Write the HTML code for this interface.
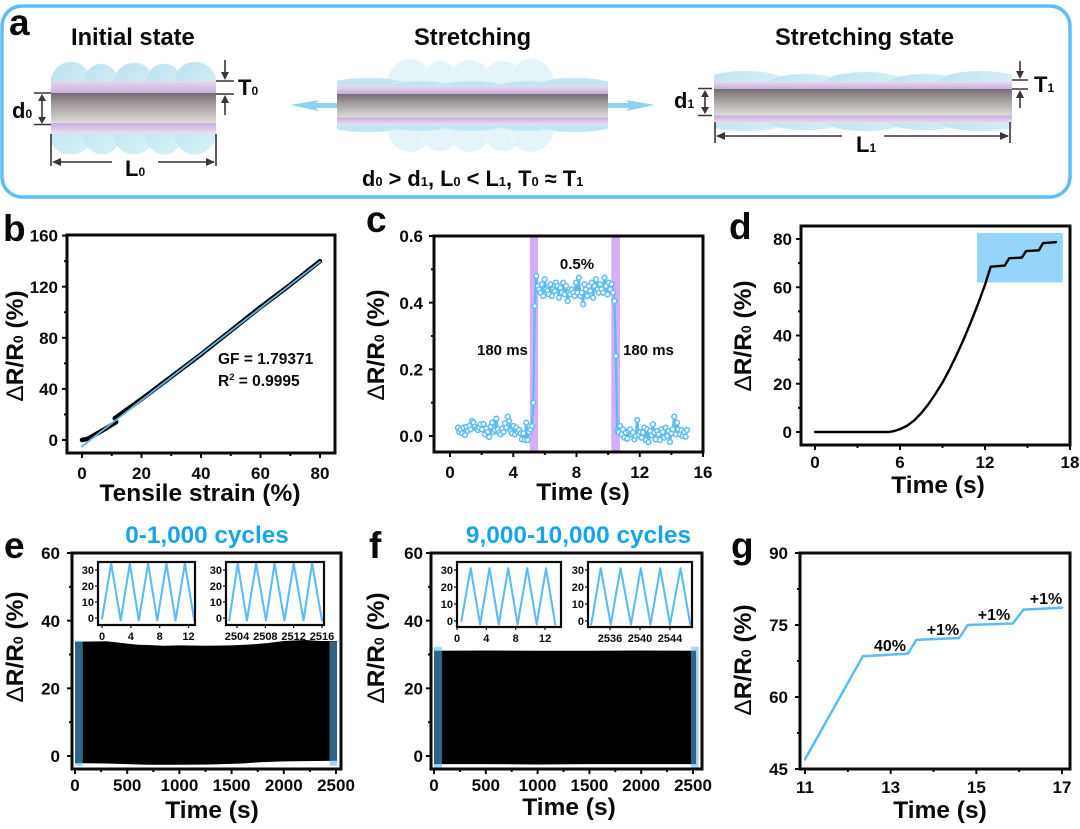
<!DOCTYPE html>
<html lang="en">
<head>
<meta charset="utf-8">
<title>Strain sensor performance figure</title>
<style>
  html,body{margin:0;padding:0;background:#fff;}
  svg{display:block;font-family:"Liberation Sans",sans-serif;}
  text{font-weight:700;fill:#0a0a0a;}
  .ttl{font-size:24.5px;}
  .big{font-size:37px;}
  .ann{font-size:15px;}
  .step{font-size:16px;}
  .dia{font-size:23.7px;}
  .cyc{fill:#18a5e6;}
</style>
</head>
<body>
<svg id="fig" width="1080" height="829" viewBox="0 0 1080 829" xmlns="http://www.w3.org/2000/svg">
  <defs>
    <linearGradient id="core" x1="0" y1="0" x2="0" y2="1"><stop offset="0" stop-color="#756c71"/><stop offset=".45" stop-color="#aaa5a5"/><stop offset="1" stop-color="#e0ddd9"/></linearGradient>
    <linearGradient id="pt" x1="0" y1="0" x2="0" y2="1"><stop offset="0" stop-color="#e6dbee"/><stop offset="1" stop-color="#c7a9dc"/></linearGradient>
    <linearGradient id="pb" x1="0" y1="0" x2="0" y2="1"><stop offset="0" stop-color="#c6acde"/><stop offset="1" stop-color="#ece2f3"/></linearGradient>
    <linearGradient id="lobe" x1="0" y1="0" x2="1" y2="1"><stop offset="0" stop-color="#b9e2ee"/><stop offset="1" stop-color="#dcf2f7"/></linearGradient>
    <linearGradient id="lobeBot" x1="0" y1="0" x2="1" y2="0"><stop offset="0" stop-color="#bde4ef"/><stop offset="1" stop-color="#d8f0f6"/></linearGradient>
    <clipPath id="clipInit"><rect x="51" y="55" width="165" height="105" rx="10"/></clipPath>
    <clipPath id="clipStretch"><rect x="337" y="70" width="271" height="70"/></clipPath>
    <clipPath id="clipState"><rect x="714" y="65" width="298" height="72"/></clipPath>
  </defs>

  <g>
    <rect x="2" y="6" width="1068" height="191" rx="20" fill="none" stroke="#5cbdf6" stroke-width="3.5"/>
    <text class="big" x="9" y="35">a</text>
    <text class="dia" x="71" y="45">Initial state</text>
    <text class="dia" x="414" y="45">Stretching</text>
    <text class="dia" x="775" y="45">Stretching state</text>

    <g>
      <g clip-path="url(#clipInit)" fill="url(#lobe)" stroke="#d3eef5" stroke-width=".7">
        <ellipse cx="71" cy="85" rx="21" ry="23"/><ellipse cx="101" cy="85" rx="18" ry="21"/><ellipse cx="134" cy="85" rx="21" ry="22"/><ellipse cx="164" cy="85" rx="19" ry="21"/><ellipse cx="195" cy="85" rx="22" ry="23"/>
        <ellipse cx="71" cy="130" rx="24" ry="24"/><ellipse cx="102" cy="130" rx="20" ry="24"/><ellipse cx="134" cy="130" rx="22" ry="24"/><ellipse cx="164" cy="130" rx="20" ry="24"/><ellipse cx="195" cy="130" rx="22" ry="24"/>
      </g>
      <rect x="51" y="81" width="165" height="13" fill="url(#pt)"/>
      <rect x="51" y="93" width="165" height="30.5" fill="url(#core)"/>
      <rect x="51" y="123" width="165" height="11" fill="url(#pb)"/>
    </g>
    <g stroke="#3a3537" stroke-width="1.6" fill="#3a3537">
      <path d="M34 93H51M34 124.500H51M42 97V120M216 81H234M216 94H234M225 60V78M225 97V115M51 134V166M216 134V166M53 162H112M158 162H214" fill="none"/>
      <path d="M42 94l-4 7h8zM42 124l-4-7h8zM225 80l-4-8h8zM225 95l-4 8h8zM52 162l9-4v8zM215 162l-9-4v8z" stroke="none"/>
    </g>
    <text font-size="22" x="12" y="118">d<tspan font-size="12">0</tspan></text>
    <text font-size="22" x="238" y="95">T<tspan font-size="12">0</tspan></text>
    <text font-size="22" x="125" y="176">L<tspan font-size="12">0</tspan></text>

    <g>
      <g fill="#e4f4f9" stroke="#f2fafc" stroke-width=".7">
        <ellipse cx="410" cy="85" rx="23" ry="26"/><ellipse cx="440" cy="85" rx="19" ry="24"/><ellipse cx="470" cy="85" rx="21" ry="25"/><ellipse cx="503" cy="85" rx="22" ry="24"/><ellipse cx="531" cy="85" rx="23" ry="26"/>
        <ellipse cx="410" cy="126" rx="23" ry="26"/><ellipse cx="440" cy="126" rx="21" ry="25"/><ellipse cx="470" cy="126" rx="22" ry="26"/><ellipse cx="503" cy="126" rx="22" ry="25"/><ellipse cx="531" cy="126" rx="23" ry="26"/>
      </g>
      <g clip-path="url(#clipStretch)" fill="#c2e6f1" stroke="#d8f0f6" stroke-width=".6">
        <ellipse cx="368" cy="90" rx="48" ry="12"/><ellipse cx="420" cy="91" rx="38" ry="10"/><ellipse cx="472" cy="91" rx="40" ry="10"/><ellipse cx="528" cy="91" rx="38" ry="10"/><ellipse cx="575" cy="90" rx="46" ry="12"/>
        <ellipse cx="368" cy="121" rx="48" ry="11"/><ellipse cx="420" cy="121" rx="38" ry="10"/><ellipse cx="472" cy="121" rx="40" ry="10"/><ellipse cx="528" cy="121" rx="38" ry="10"/><ellipse cx="575" cy="121" rx="46" ry="11"/>
      </g>
      <rect x="337" y="86" width="271" height="8.500" fill="url(#pt)"/>
      <rect x="337" y="94" width="271" height="24" fill="url(#core)"/>
      <rect x="337" y="117.500" width="271" height="7.500" fill="url(#pb)"/>
      <path d="M290 105L319 100L316 103H337V108H316L319 111Z" fill="#8fd3f3"/>
      <path d="M655 105L626 100L629 103H608V108H629L626 111Z" fill="#8fd3f3"/>
    </g>
    <text font-size="21.800" x="362" y="186">d<tspan font-size="13">0</tspan> &gt; d<tspan font-size="13">1</tspan>, L<tspan font-size="13">0</tspan> &lt; L<tspan font-size="13">1</tspan>, T<tspan font-size="13">0</tspan> ≈ T<tspan font-size="13">1</tspan></text>

    <g>
      <g clip-path="url(#clipState)" fill="url(#lobeBot)" stroke="#dff3f8" stroke-width=".6">
        <ellipse cx="745" cy="84" rx="44" ry="13"/><ellipse cx="805" cy="85" rx="40" ry="11"/><ellipse cx="865" cy="84" rx="42" ry="12"/><ellipse cx="925" cy="85" rx="40" ry="11"/><ellipse cx="980" cy="84" rx="44" ry="13"/>
        <ellipse cx="745" cy="120" rx="44" ry="11"/><ellipse cx="805" cy="120" rx="40" ry="10"/><ellipse cx="865" cy="120" rx="42" ry="11"/><ellipse cx="925" cy="120" rx="40" ry="10"/><ellipse cx="980" cy="120" rx="44" ry="11"/>
      </g>
      <rect x="714" y="81.500" width="298" height="8" fill="url(#pt)"/>
      <rect x="714" y="89" width="298" height="27" fill="url(#core)"/>
      <rect x="714" y="115.500" width="298" height="8" fill="url(#pb)"/>
    </g>
    <g stroke="#3a3537" stroke-width="1.6" fill="#3a3537">
      <path d="M698 88.500H712M698 115.500H712M705 92V112M1012 80H1028M1012 89H1028M1020 61V72M1020 97V108M715 122V143M1010 122V143M717 136H842M884 136H1008" fill="none"/>
      <path d="M705 90l-4 7h8zM705 114l-4-7h8zM1020 79l-4-8h8zM1020 90l-4 8h8zM716 136l9-4v8zM1009 136l-9-4v8z" stroke="none"/>
    </g>
    <text font-size="22" x="674" y="108">d<tspan font-size="12">1</tspan></text>
    <text font-size="22" x="1034" y="92">T<tspan font-size="12">1</tspan></text>
    <text font-size="22" x="856" y="152">L<tspan font-size="12">1</tspan></text>
  </g>

  <text class="big" x="3" y="241">b</text>
  <text class="big" x="366" y="232">c</text>
  <text class="big" x="729" y="239">d</text>
  <text class="big" x="4" y="558">e</text>
  <text class="big" x="369" y="558">f</text>
  <text class="big" x="731" y="558">g</text>

  <text class="ttl" text-anchor="middle" transform="rotate(-90 23 346)" x="23" y="346"><tspan style="font-weight:400">Δ</tspan>R/R<tspan font-size="14">0</tspan> (%)</text>
  <text class="ttl" text-anchor="middle" transform="rotate(-90 384 345)" x="384" y="345"><tspan style="font-weight:400">Δ</tspan>R/R<tspan font-size="14">0</tspan> (%)</text>
  <text class="ttl" text-anchor="middle" transform="rotate(-90 751 336)" x="751" y="336"><tspan style="font-weight:400">Δ</tspan>R/R<tspan font-size="14">0</tspan> (%)</text>
  <text class="ttl" text-anchor="middle" transform="rotate(-90 23 647)" x="23" y="647"><tspan style="font-weight:400">Δ</tspan>R/R<tspan font-size="14">0</tspan> (%)</text>
  <text class="ttl" text-anchor="middle" transform="rotate(-90 384 648)" x="384" y="648"><tspan style="font-weight:400">Δ</tspan>R/R<tspan font-size="14">0</tspan> (%)</text>
  <text class="ttl" text-anchor="middle" transform="rotate(-90 751 660)" x="751" y="660"><tspan style="font-weight:400">Δ</tspan>R/R<tspan font-size="14">0</tspan> (%)</text>

  <text class="ttl" text-anchor="middle" x="200" y="501">Tensile strain (%)</text>
  <text class="ttl" text-anchor="middle" x="583" y="500">Time (s)</text>
  <text class="ttl" text-anchor="middle" x="938" y="493">Time (s)</text>
  <text class="ttl" text-anchor="middle" x="212" y="818">Time (s)</text>
  <text class="ttl" text-anchor="middle" x="569" y="815">Time (s)</text>
  <text class="ttl" text-anchor="middle" x="940" y="818">Time (s)</text>

  <text class="cyc" font-size="24.300" text-anchor="middle" x="207" y="543">0-1,000 cycles</text>
  <text class="cyc" font-size="24.400" text-anchor="middle" x="578.500" y="543">9,000-10,000 cycles</text>

  <text font-size="15.500" x="218" y="364">GF = 1.79371</text>
  <text font-size="15.500" x="218" y="386">R<tspan font-size="9.500" dy="-6">2</tspan><tspan dy="6"> = 0.9995</tspan></text>
  <text class="ann" text-anchor="middle" x="577" y="269">0.5%</text>
  <text class="ann" x="477" y="355">180 ms</text>
  <text class="ann" x="623" y="355">180 ms</text>
  <text class="step" text-anchor="middle" x="890" y="651">40%</text>
  <text class="step" text-anchor="middle" x="943" y="635">+1%</text>
  <text class="step" text-anchor="middle" x="994" y="620">+1%</text>
  <text class="step" text-anchor="middle" x="1046" y="604">+1%</text>

  <g id="charts"></g>
</svg>

<script>
// Panel b
const bStrain = [0, 2, 5, 8, 11.5];
const bResponseLow = [0, 1, 5, 9, 14];
const bStrainHigh = [11, 20, 30, 40, 50, 60, 70, 80];
const bResponseHigh = [17, 32, 49.5, 67, 85.5, 104, 121.5, 140];
const bFitStrain = [0, 80];
const bFitValues = [-5, 139.5];
const bXTicks = [0, 20, 40, 60, 80];
const bYTicks = [0, 40, 80, 120, 160];
const bXMinor = [10, 30, 50, 70];
const bYMinor = [20, 60, 100, 140];

// Panel c
const cStart = 0.5;
const cStep = 0.09;
const cValues = [
  .025,.012,.02,.008,.025,.003,.027,.015,.03,.02,
  .045,.04,.028,.022,.018,.025,.035,.02,.036,.005,
  .022,.012,-.003,.028,.04,.012,.018,.052,.02,.01,
  .005,.022,.012,.038,.025,.058,.045,.015,.008,.03,
  .005,.025,.012,.018,.008,-.01,.008,-.012,.04,-.012,
  .012,.02,.03,.1,.39,.48,
  .45,.44,.43,.455,.42,.47,.44,.435,.425,.455,
  .42,.44,.435,.46,.45,.415,.445,.43,.46,.425,
  .45,.405,.43,.425,.44,.43,.42,.46,.43,.475,
  .42,.43,.395,.455,.44,.42,.45,.435,.46,.415,
  .45,.47,.44,.43,.455,.44,.43,.475,.45,.425,
  .46,.44,.455,.43,.405,.24,.015,
  .012,.03,.005,.02,-.005,.01,-.008,.015,.02,.005,
  .01,-.01,.0,.048,.005,.012,-.005,.01,.025,-.012,
  .02,-.018,.015,.002,.035,.01,-.01,.015,.005,-.012,
  .02,.012,-.005,.025,.0,.015,-.018,.008,.02,.058,
  .005,.04,.02,.005,.018,.0,.012,-.002,.018
];
const cXTicks = [0, 4, 8, 12, 16];
const cYTicks = [0, 0.2, 0.4, 0.6];
const cXMinor = [2, 6, 10, 14];
const cYMinor = [0.1, 0.3, 0.5];
const cBandStart = [5.05, 10.2];
const cBandEnd = [5.57, 10.75];

// Panel d
const dTime = [0, 5.2, 5.6, 6, 6.5, 7, 7.5, 8, 8.5, 9, 9.5, 10, 10.5, 11, 11.5, 12, 12.4, 13.4, 13.7, 14.6, 14.9, 15.8, 16.1, 17];
const dValues = [0, 0, 0.4, 1.2, 2.6, 4.8, 7.8, 11.5, 15.8, 20.5, 26, 32, 38.5, 45.5, 53, 61, 68.5, 69, 72, 72.3, 75, 75.3, 78.3, 78.7];
const dXTicks = [0, 6, 12, 18];
const dYTicks = [0, 20, 40, 60, 80];
const dXMinor = [3, 9, 15];
const dYMinor = [10, 30, 50, 70];
const dHighlightTime = [11.43, 17.49];
const dHighlightValue = [62, 82.5];

// Panel e
const eUpperTime = [0, 150, 300, 400, 500, 600, 700, 850, 1000, 1250, 1500, 1700, 1850, 2000, 2200, 2350, 2510];
const eUpper = [33.8, 33.85, 33.9, 33.6, 33.2, 32.9, 32.8, 32.6, 32.7, 32.6, 32.7, 33, 33.4, 34, 34.3, 34, 34];
const eLowerTime = [0, 300, 500, 700, 1000, 1300, 1600, 1800, 2000, 2200, 2510];
const eLower = [-2.1, -2.2, -2.4, -2.6, -2.6, -2.5, -2.2, -1.8, -1.6, -1.5, -1.4];
const eXTicks = [0, 500, 1000, 1500, 2000, 2500];
const eYTicks = [0, 20, 40, 60];
const eXMinor = [250, 750, 1250, 1750, 2250];
const eYMinor = [10, 30, 50];
const eStripStart = [0, 2438];
const eStripEnd = [75, 2510];
const eStripTop = 33.9;
const eStripBottom = -2.9;
const eInsetATime = [0, 1.27, 2.59, 3.86, 5.1, 6.4, 7.67, 8.94, 10.2, 11.5, 12.8];
const eInsetAValues = [-0.5, 34, -1.5, 34, -1.5, 34, -1.5, 34, -1.5, 34, -1.5];
const eInsetATicks = [0, 4, 8, 12];
const eInsetBTime = [2502.9, 2504.1, 2505.4, 2506.7, 2508.1, 2509.3, 2510.7, 2512, 2513.4, 2514.6, 2516];
const eInsetBValues = [-1.5, 34, -1.5, 34, -1.5, 34, -1.5, 34, -1.5, 34, -1.5];
const eInsetBTicks = [2504, 2508, 2512, 2516];
const insetYTicks = [0, 10, 20, 30];

// Panel f
const fUpperTime = [0, 500, 1000, 1500, 2000, 2530];
const fUpper = [31.1, 31.2, 31.1, 31.1, 31.2, 31.1];
const fLowerTime = [0, 500, 1000, 1500, 2000, 2530];
const fLower = [-2.4, -2.4, -2.5, -2.4, -2.4, -2.4];
const fXTicks = [0, 500, 1000, 1500, 2000, 2500];
const fYTicks = [0, 20, 40, 60];
const fXMinor = [250, 750, 1250, 1750, 2250];
const fYMinor = [10, 30, 50];
const fStripStart = [0, 2480];
const fStripEnd = [78, 2555];
const fStripTop = 32.3;
const fStripBottom = -3.4;
const fInsetATime = [0.6, 1.87, 3.15, 4.43, 5.7, 6.98, 8.26, 9.58, 10.87, 12.14, 13.4];
const fInsetAValues = [0, 31, -2, 31, -2, 31, -2, 31, -2, 31, -2];
const fInsetATicks = [0, 4, 8, 12];
const fInsetBTime = [2533.5, 2534.76, 2536.1, 2537.4, 2538.8, 2540.1, 2541.4, 2542.7, 2544, 2545.4, 2546.7];
const fInsetBValues = [-2, 31, -2, 31, -2, 31, -2, 31, -2, 31, -2];
const fInsetBTicks = [2536, 2540, 2544];

// Panel g
const gTime = [11, 12.35, 13.4, 13.6, 14.6, 14.8, 15.85, 16.1, 17];
const gValues = [47, 68.5, 69, 71.9, 72.3, 75, 75.3, 78.2, 78.6];
const gXTicks = [11, 13, 15, 17];
const gYTicks = [45, 60, 75, 90];
const gXMinor = [12, 14, 16];
const gYMinor = [52.5, 67.5, 82.5];

const NS = 'http://www.w3.org/2000/svg';
const BLUE = '#5bbcf5';
const root = document.getElementById('charts');

function linear(d0, d1, r0, r1) {
  return function (v) { return r0 + (v - d0) * (r1 - r0) / (d1 - d0); };
}

function node(parent, tag, name, attrs) {
  const el = document.createElementNS(NS, tag);
  
  
  for (const k in attrs) el.setAttribute(k, attrs[k]);
  parent.appendChild(el);
  return el;
}

function polyline(parent, name, xs, ys, X, Y, stroke, width) {
  const pts = xs.map(function (v, i) { return X(v).toFixed(2) + ',' + Y(ys[i]).toFixed(2); }).join(' ');
  return node(parent, 'polyline', name, {
    points: pts, fill: 'none', stroke: stroke, 'stroke-width': width,
    'stroke-linejoin': 'round', 'stroke-linecap': 'round'
  });
}

function axes(parent, p, o) {
  const g = node(parent, 'g', p + '-axes', {});
  const major = o.major === undefined ? 5 : o.major;
  const minor = o.minor === undefined ? 3 : o.minor;
  const tw = o.tickWidth || 2;
  function tick(name, x1, y1, x2, y2) {
    node(g, 'line', name, { x1: x1, y1: y1, x2: x2, y2: y2, stroke: '#0a0a0a', 'stroke-width': tw });
  }
  o.xTicks.forEach(function (v) {
    tick(p + '-x-tick', o.X(v), o.b, o.X(v), o.b + major);
    const t = node(g, 'text', p + '-x-tick-label', {
      x: o.X(v), y: o.b + o.xOff, 'text-anchor': 'middle', 'font-size': o.fs
    });
    t.textContent = o.xFmt ? o.xFmt(v) : String(v);
  });
  (o.xMinor || []).forEach(function (v) { tick(p + '-x-minor-tick', o.X(v), o.b, o.X(v), o.b + minor); });
  o.yTicks.forEach(function (v) {
    tick(p + '-y-tick', o.l, o.Y(v), o.l - major, o.Y(v));
    const t = node(g, 'text', p + '-y-tick-label', {
      x: o.l - o.yOff, y: o.Y(v) + o.fs * 0.36, 'text-anchor': 'end', 'font-size': o.fs
    });
    t.textContent = o.yFmt ? o.yFmt(v) : String(v);
  });
  (o.yMinor || []).forEach(function (v) { tick(p + '-y-minor-tick', o.l, o.Y(v), o.l - minor, o.Y(v)); });
  node(g, 'rect', p + '-frame', {
    x: o.l, y: o.t, width: o.r - o.l, height: o.b - o.t,
    fill: 'none', stroke: '#0a0a0a', 'stroke-width': o.frame || 3
  });
}

function massFill(parent, name, upT, up, loT, lo, X, Y) {
  const a = upT.map(function (v, i) { return X(v).toFixed(2) + ',' + Y(up[i]).toFixed(2); });
  const b = loT.map(function (v, i) { return X(v).toFixed(2) + ',' + Y(lo[i]).toFixed(2); }).reverse();
  node(parent, 'polygon', name, { points: a.concat(b).join(' '), fill: '#000' });
}

function strips(parent, name, s, e, top, bottom, X, Y) {
  s.forEach(function (v, i) {
    node(parent, 'rect', name, {
      x: X(v), y: Y(top), width: X(e[i]) - X(v), height: Y(bottom) - Y(top),
      fill: '#5ab8f3', 'fill-opacity': 0.55
    });
  });
}

function inset(parent, p, box, times, values, xTicks, X, Y) {
  const g = node(parent, 'g', p, {});
  node(g, 'rect', p + '-background', { x: box.l, y: box.t, width: box.r - box.l, height: box.b - box.t, fill: '#fff' });
  polyline(g, p + '-line', times, values, X, Y, BLUE, 2.1);
  axes(g, p, {
    l: box.l, r: box.r, t: box.t, b: box.b, X: X, Y: Y, xTicks: xTicks, yTicks: insetYTicks,
    fs: 11, xOff: 15, yOff: 4, major: 3, tickWidth: 1.2, frame: 2.2
  });
}

// Panel b
(function () {
  const g = node(root, 'g', 'chart-b', {});
  const X = linear(0, 80, 82, 320);
  const Y = linear(0, 160, 440, 235.6);
  polyline(g, 'b-response-low-strain', bStrain, bResponseLow, X, Y, '#000', 4.5);
  polyline(g, 'b-response-high-strain', bStrainHigh, bResponseHigh, X, Y, '#000', 4.5);
  polyline(g, 'b-linear-fit', bFitStrain, bFitValues, X, Y, '#62b8e6', 1.8);
  axes(g, 'b', { l: 67, r: 335, t: 235, b: 453, X: X, Y: Y, xTicks: bXTicks, yTicks: bYTicks, xMinor: bXMinor, yMinor: bYMinor, fs: 17, xOff: 26, yOff: 9 });
})();

// Panel c
(function () {
  const g = node(root, 'g', 'chart-c', {});
  const X = linear(0, 16, 450, 703);
  const Y = linear(0, 0.6, 436, 236);
  cBandStart.forEach(function (v, i) {
    node(g, 'rect', 'c-transition-band', { x: X(v), y: 236, width: X(cBandEnd[i]) - X(v), height: 216, fill: '#d6aef8' });
  });
  const times = cValues.map(function (v, i) { return cStart + i * cStep; });
  polyline(g, 'c-response-line', times, cValues, X, Y, BLUE, 2.4);
  cValues.forEach(function (v, i) {
    node(g, 'circle', 'c-point', { cx: X(times[i]), cy: Y(v), r: 2.4, fill: '#fff', stroke: BLUE, 'stroke-width': 1.5 });
  });
  axes(g, 'c', { l: 434, r: 703, t: 236, b: 452, X: X, Y: Y, xTicks: cXTicks, yTicks: cYTicks, xMinor: cXMinor, yMinor: cYMinor, fs: 17, xOff: 26, yOff: 11, yFmt: function (v) { return v.toFixed(1); } });
})();

// Panel d
(function () {
  const g = node(root, 'g', 'chart-d', {});
  const X = linear(0, 18, 815, 1070);
  const Y = linear(0, 80, 432, 239);
  node(g, 'rect', 'd-highlight-region', {
    x: X(dHighlightTime[0]), y: Y(dHighlightValue[1]),
    width: X(dHighlightTime[1]) - X(dHighlightTime[0]),
    height: Y(dHighlightValue[0]) - Y(dHighlightValue[1]), fill: '#96d5fb'
  });
  polyline(g, 'd-response-line', dTime, dValues, X, Y, '#000', 2.4);
  axes(g, 'd', { l: 801, r: 1070, t: 226, b: 445, X: X, Y: Y, xTicks: dXTicks, yTicks: dYTicks, xMinor: dXMinor, yMinor: dYMinor, fs: 17, xOff: 23, yOff: 9 });
})();

// Panel e
(function () {
  const g = node(root, 'g', 'chart-e', {});
  const X = linear(0, 2500, 75, 336);
  const Y = linear(0, 60, 756, 553);
  massFill(g, 'e-cycling-envelope', eUpperTime, eUpper, eLowerTime, eLower, X, Y);
  strips(g, 'e-highlight-strip', eStripStart, eStripEnd, eStripTop, eStripBottom, X, Y);
  axes(g, 'e', { l: 72, r: 341, t: 553, b: 769, X: X, Y: Y, xTicks: eXTicks, yTicks: eYTicks, xMinor: eXMinor, yMinor: eYMinor, fs: 17, xOff: 22, yOff: 12 });
  const iy = linear(0, 30, 618, 570);
  inset(g, 'e-inset-start', { l: 98, r: 195, t: 562, b: 625 }, eInsetATime, eInsetAValues, eInsetATicks, linear(0, 12, 102, 188.5), iy);
  inset(g, 'e-inset-end', { l: 226, r: 324, t: 562, b: 625 }, eInsetBTime, eInsetBValues, eInsetBTicks, linear(2504, 2516, 237, 322), iy);
})();

// Panel f
(function () {
  const g = node(root, 'g', 'chart-f', {});
  const X = linear(0, 2500, 434, 693);
  const Y = linear(0, 60, 756, 553);
  massFill(g, 'f-cycling-envelope', fUpperTime, fUpper, fLowerTime, fLower, X, Y);
  strips(g, 'f-highlight-strip', fStripStart, fStripEnd, fStripTop, fStripBottom, X, Y);
  axes(g, 'f', { l: 431, r: 702, t: 553, b: 769, X: X, Y: Y, xTicks: fXTicks, yTicks: fYTicks, xMinor: fXMinor, yMinor: fYMinor, fs: 17, xOff: 22, yOff: 8 });
  const iy = linear(0, 30, 621, 570);
  inset(g, 'f-inset-start', { l: 457, r: 561, t: 562, b: 627 }, fInsetATime, fInsetAValues, fInsetATicks, linear(0, 12, 457, 545), iy);
  inset(g, 'f-inset-end', { l: 588, r: 692, t: 562, b: 627 }, fInsetBTime, fInsetBValues, fInsetBTicks, linear(2536, 2544, 610, 670), iy);
})();

// Panel g
(function () {
  const g = node(root, 'g', 'chart-g', {});
  const X = linear(11, 17, 805, 1062);
  const Y = linear(45, 90, 769, 553);
  polyline(g, 'g-response-line', gTime, gValues, X, Y, BLUE, 2.5);
  axes(g, 'g', { l: 800, r: 1070, t: 553, b: 769, X: X, Y: Y, xTicks: gXTicks, yTicks: gYTicks, xMinor: gXMinor, yMinor: gYMinor, fs: 17, xOff: 24, yOff: 12 });
})();
</script>
</body>
</html>
